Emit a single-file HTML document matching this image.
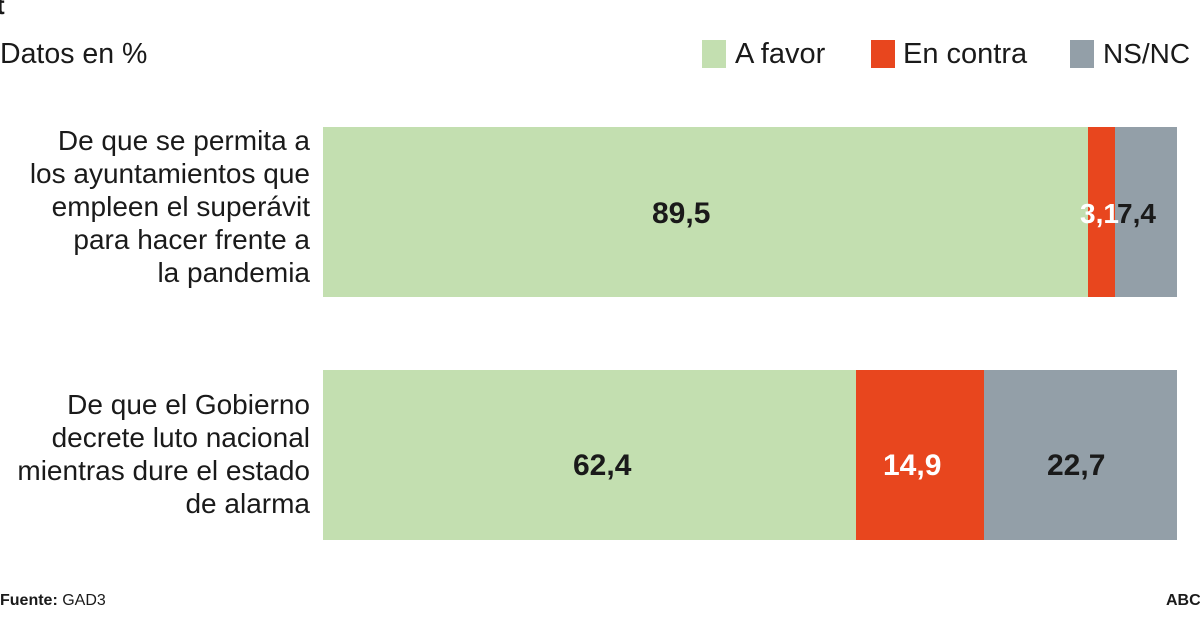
<!DOCTYPE html>
<html><head><meta charset="utf-8"><style>
body{margin:0;width:1200px;height:630px;background:#fff;position:relative;overflow:hidden;font-family:"Liberation Sans",sans-serif;color:#1a1a1a}
.a{position:absolute;white-space:nowrap}
.sw{position:absolute;width:24px;height:28px;top:40px}
.lbl{position:absolute;right:890px;text-align:right;font-size:28px;line-height:33px}
.bar{position:absolute;height:170px}
.v{position:absolute;font-size:30px;font-weight:bold;line-height:34px}
</style></head><body>
<div class="a" style="left:-4px;top:-10px;font-size:26px;font-weight:bold">t</div>
<div class="a" style="left:0;top:38px;font-size:28.5px">Datos en %</div>
<div class="sw" style="left:702px;background:#c3dfb0"></div>
<div class="a" style="left:735px;top:38px;font-size:29px">A favor</div>
<div class="sw" style="left:871px;background:#e8461e"></div>
<div class="a" style="left:903px;top:38px;font-size:29px">En contra</div>
<div class="sw" style="left:1070px;background:#939fa8"></div>
<div class="a" style="left:1103px;top:38px;font-size:28px">NS/NC</div>

<div class="lbl" style="top:124px">De que se permita a<br>los ayuntamientos que<br>empleen el superávit<br>para hacer frente a<br>la pandemia</div>
<div class="bar" style="left:323px;top:127px;width:765px;background:#c3dfb0"></div>
<div class="bar" style="left:1088px;top:127px;width:27px;background:#e8461e"></div>
<div class="bar" style="left:1115px;top:127px;width:62px;background:#939fa8"></div>
<div class="v" style="left:652px;top:197px">89,5</div>
<div class="v" style="left:1080px;top:197px;color:#fff;font-size:28px">3,1</div>
<div class="v" style="left:1117px;top:197px;font-size:28px">7,4</div>

<div class="lbl" style="top:388px">De que el Gobierno<br>decrete luto nacional<br>mientras dure el estado<br>de alarma</div>
<div class="bar" style="left:323px;top:370px;width:533px;background:#c3dfb0"></div>
<div class="bar" style="left:856px;top:370px;width:128px;background:#e8461e"></div>
<div class="bar" style="left:984px;top:370px;width:193px;background:#939fa8"></div>
<div class="v" style="left:573px;top:449px">62,4</div>
<div class="v" style="left:883px;top:449px;color:#fff">14,9</div>
<div class="v" style="left:1047px;top:449px">22,7</div>

<div class="a" style="left:0;top:592px;font-size:16px"><b>Fuente:</b> GAD3</div>
<div class="a" style="left:1166px;top:592px;font-size:16px;font-weight:bold">ABC</div>
</body></html>
